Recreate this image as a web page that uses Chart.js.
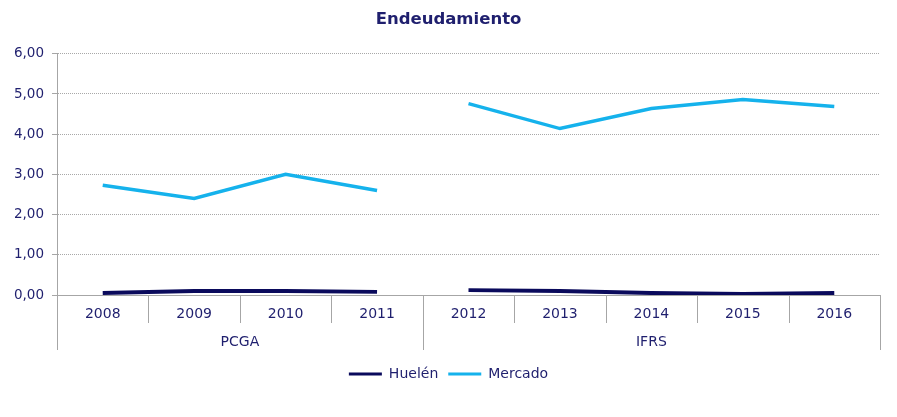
<!DOCTYPE html>
<html>
<head>
<meta charset="utf-8">
<script src="https://cdn.jsdelivr.net/npm/chart.js@4/dist/chart.umd.min.js"></script>
<style>
  html, body { margin: 0; padding: 0; background: #fff; }
  #wrap { width: 897px; height: 417px; }
</style>
</head>
<body>
<div id="wrap"><canvas id="chart-deuda"></canvas></div>
<script>
const years = ['2008', '2009', '2010', '2011', '2012', '2013', '2014', '2015', '2016'];
const groups = ['PCGA', 'IFRS'];
const groupSizes = [4, 5];
const huelen = [0.05, 0.10, 0.10, 0.08, 0.12, 0.10, 0.05, 0.03, 0.05];
const mercado = [2.73, 2.40, 3.00, 2.60, 4.76, 4.14, 4.64, 4.86, 4.69];

const navy = '#1f1f6e';
const gridGray = '#a6a6a6';
const font = 'DejaVu Sans';

// no line between the last PCGA year and the first IFRS year
const breakAt = groupSizes[0] - 1;
function segColor(color) {
    return ctx => ctx.p0DataIndex === breakAt ? 'transparent' : color;
}

const groupAxis = {
    id: 'groupAxis',
    afterDraw(chart) {
        const ctx = chart.ctx;
        const x = chart.scales.x;
        const top = chart.chartArea.bottom;
        ctx.save();
        ctx.strokeStyle = gridGray;
        ctx.lineWidth = 1;
        let start = 0;
        const bounds = [0];
        groupSizes.forEach(n => { start += n; bounds.push(start); });
        for (let i = 0; i <= years.length; i++) {
            const px = Math.round(x.getPixelForValue(i - 0.5)) + 0.5;
            const isGroup = bounds.includes(i);
            ctx.beginPath();
            ctx.moveTo(px, top);
            ctx.lineTo(px, isGroup ? top + 55 : top + 28);
            ctx.stroke();
        }
        ctx.fillStyle = navy;
        ctx.font = '14px "' + font + '"';
        ctx.textAlign = 'center';
        ctx.textBaseline = 'middle';
        groups.forEach((g, k) => {
            const a = x.getPixelForValue(bounds[k] - 0.5);
            const b = x.getPixelForValue(bounds[k + 1] - 0.5);
            ctx.fillText(g, (a + b) / 2, top + 47);
        });
        ctx.restore();
    }
};

const configDeuda = new Chart(
    document.getElementById('chart-deuda'), {
    type: 'line',
    data: {
        labels: years,
        datasets: [{
            label: 'Huelén',
            data: huelen,
            borderColor: '#0a0a5c',
            backgroundColor: '#0a0a5c',
            borderWidth: 3.8,
            pointRadius: 0,
            tension: 0,
            segment: { borderColor: segColor('#0a0a5c') }
        }, {
            label: 'Mercado',
            data: mercado,
            borderColor: '#15b2ec',
            backgroundColor: '#15b2ec',
            borderWidth: 3.5,
            pointRadius: 0,
            tension: 0,
            segment: { borderColor: segColor('#15b2ec') }
        }]
    },
    plugins: [groupAxis],
    options: {
        maintainAspectRatio: false,
        responsive: true,
        animation: false,
        layout: {
            padding: { left: 0, right: 0, top: 0, bottom: 26 }
        },
        plugins: {
            title: {
                display: true,
                text: 'Endeudamiento',
                color: navy,
                font: { family: font, size: 16.5, weight: 'bold' },
                padding: { top: 10, bottom: 24 }
            },
            legend: {
                position: 'bottom',
                labels: {
                    color: navy,
                    font: { family: font, size: 14 },
                    boxWidth: 33,
                    boxHeight: 3,
                    padding: 10,
                    generateLabels: chart => Chart.defaults.plugins.legend.labels.generateLabels(chart)
                        .map(l => ({ ...l, lineWidth: 0 }))
                }
            },
            tooltip: { enabled: false }
        },
        scales: {
            x: {
                offset: true,
                grid: { display: false },
                border: { color: gridGray },
                ticks: {
                    color: navy,
                    font: { family: font, size: 14 },
                    padding: 3,
                    maxRotation: 0
                },
                afterFit: s => { s.height = 62; }
            },
            y: {
                min: 0,
                max: 6,
                ticks: {
                    stepSize: 1,
                    color: navy,
                    font: { family: font, size: 13.5 },
                    padding: 8,
                    callback: v => v.toFixed(2).replace('.', ',')
                },
                grid: {
                    color: ctx => ctx.tick && ctx.tick.value === 0 ? 'transparent' : '#a8a8a8',
                    tickColor: gridGray,
                    tickLength: 5
                },
                border: { color: gridGray, dash: [1, 1] },
                afterFit: s => { s.width = 57; }
            },
            // empty right-hand margin so the title stays centred on the page
            yRight: {
                position: 'right',
                display: true,
                grid: { display: false, drawTicks: false },
                border: { display: false },
                ticks: { display: false },
                afterFit: s => { s.width = 17; }
            }
        }
    }
});
</script>
</body>
</html>
